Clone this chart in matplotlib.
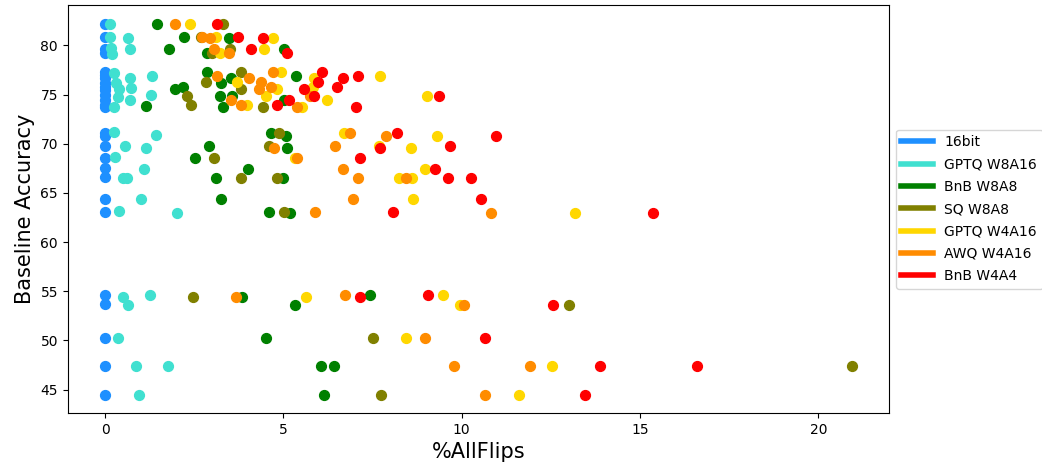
import matplotlib
matplotlib.use("Agg")
import matplotlib.pyplot as plt

# 16bit baseline: every task sits at 0 flips
fp16_y = [82.2, 80.8, 79.6, 79.2, 77.3, 77.0, 76.7, 76.2, 75.8, 75.5, 75.0, 74.4, 73.9, 73.7,
          71.1, 70.8, 69.8, 68.6, 67.5, 66.6, 64.4, 63.1, 54.6, 53.7, 50.3, 47.4, 44.5]
fp16_x = [0.0] * len(fp16_y)

gptq8_x = [0.14, 0.15, 0.63, 0.18, 0.2, 0.71, 0.26, 0.71, 1.33, 0.3, 0.4, 0.74, 0.35, 0.71, 1.3, 0.26,
           0.24, 1.42, 0.57, 1.16, 0.29, 1.1, 0.49, 0.61, 1.0, 0.4, 2.01, 0.49, 1.26, 0.65, 0.36,
           0.86, 1.77, 0.96]
gptq8_y = [82.2, 80.9, 80.7, 79.7, 79.1, 79.6, 77.2, 76.7, 76.9, 76.2, 75.6, 75.7, 74.8, 74.4, 75.0, 73.7,
           71.2, 70.9, 69.8, 69.6, 68.7, 67.4, 66.55, 66.55, 64.4, 63.2, 63.0, 54.4, 54.6, 53.6, 50.3,
           47.4, 47.4, 44.5]

bnb8_x = [1.45, 2.21, 3.47, 1.80, 2.87, 5.01, 2.87, 3.24, 3.52, 5.36, 1.95, 2.19, 3.21, 3.57, 5.01,
          1.15, 3.31, 4.64, 5.06, 2.91, 5.11, 2.52, 4.01, 3.12, 5.0, 3.24, 4.6, 5.18, 3.85, 7.42,
          5.32, 4.52, 6.06, 6.43, 6.15]
bnb8_y = [82.2, 80.85, 80.7, 79.6, 79.2, 79.6, 77.3, 76.2, 76.7, 76.9, 75.6, 75.8, 74.9, 74.9, 74.4,
          73.8, 73.7, 71.1, 70.8, 69.8, 69.6, 68.6, 67.4, 66.55, 66.55, 64.4, 63.1, 63.0, 54.4, 54.6,
          53.6, 50.3, 47.4, 47.4, 44.5]

sq8_x = [3.31, 2.68, 3.0, 3.50, 2.82, 3.80, 3.80, 2.29, 2.4, 4.43, 4.88, 4.59, 3.05, 3.82, 4.81,
         5.03, 2.47, 13.02, 7.5, 20.93, 7.75]
sq8_y = [82.2, 80.85, 79.2, 79.6, 76.25, 77.3, 75.6, 74.9, 73.9, 73.7, 71.1, 69.8, 68.6, 66.55, 66.55,
         63.1, 54.4, 53.6, 50.3, 47.4, 44.5]

gptq4_x = [2.37, 3.11, 4.70, 3.21, 4.45, 3.71, 4.92, 5.87, 7.72, 4.83, 5.82, 4.52, 6.23, 9.03, 3.99,
           5.53, 6.69, 9.31, 7.67, 8.58, 5.33, 8.98, 8.23, 8.61, 8.63, 13.18, 5.64, 9.47, 9.96, 8.44,
           12.52, 11.61]
gptq4_y = [82.2, 80.85, 80.7, 79.2, 79.6, 76.25, 77.3, 76.7, 76.9, 75.6, 75.8, 74.9, 74.4, 74.9, 73.9,
           73.7, 71.1, 70.8, 69.8, 69.6, 68.6, 67.4, 66.55, 66.55, 64.4, 63.0, 54.4, 54.6, 53.6, 50.3,
           47.4, 44.5]

awq4_x = [1.96, 2.73, 2.94, 3.05, 3.47, 3.15, 4.03, 4.36, 4.72, 4.31, 4.66, 3.52, 5.76, 3.8, 5.37,
          6.86, 7.89, 4.75, 6.44, 5.39, 6.67, 7.09, 8.45, 6.95, 5.9, 10.83, 3.68, 6.74, 10.07, 8.96,
          9.79, 11.92, 10.64]
awq4_y = [82.2, 80.85, 80.7, 79.6, 79.2, 76.9, 76.7, 76.25, 77.3, 75.6, 75.8, 74.4, 74.9, 73.9, 73.7,
          71.1, 70.8, 69.6, 69.8, 68.6, 67.4, 66.55, 66.55, 64.4, 63.1, 63.0, 54.4, 54.6, 53.6, 50.3,
          47.4, 47.4, 44.5]

bnb4_x = [3.15, 3.73, 4.43, 4.08, 5.11, 6.09, 5.97, 6.68, 7.09, 5.57, 6.51, 5.15, 5.85, 9.37, 4.83,
          7.04, 8.19, 10.95, 7.72, 9.68, 7.15, 9.26, 9.61, 10.27, 10.54, 8.06, 15.37, 7.14, 9.05,
          12.57, 10.64, 13.89, 16.61, 13.47]
bnb4_y = [82.2, 80.85, 80.7, 79.6, 79.2, 77.3, 76.25, 76.7, 76.9, 75.6, 75.8, 74.4, 74.9, 74.9, 73.9,
          73.7, 71.1, 70.8, 69.6, 69.8, 68.6, 67.4, 66.55, 66.55, 64.4, 63.1, 63.0, 54.4, 54.6,
          53.6, 50.3, 47.4, 47.4, 44.5]

labels = ["16bit", "GPTQ W8A16", "BnB W8A8", "SQ W8A8", "GPTQ W4A16", "AWQ W4A16", "BnB W4A4"]
colors = ["dodgerblue", "turquoise", "green", "olive", "gold", "darkorange", "red"]
xs = [fp16_x, gptq8_x, bnb8_x, sq8_x, gptq4_x, awq4_x, bnb4_x]
ys = [fp16_y, gptq8_y, bnb8_y, sq8_y, gptq4_y, awq4_y, bnb4_y]

fig = plt.figure(figsize=(10.42, 4.70), dpi=100)
ax = fig.add_axes([0.065, 0.121, 0.788, 0.868])

for x, y, c in zip(xs, ys, colors):
    ax.scatter(x, y, color=c, s=50)

# legend uses thick lines instead of dots
handles = [plt.Line2D([], [], color=c, lw=4) for c in colors]
ax.legend(handles, labels, loc="center left", bbox_to_anchor=(1.0, 0.5),
          handlelength=2.3, labelspacing=0.6)

ax.set_xlabel("%AllFlips", size=15)
ax.set_ylabel("Baseline Accuracy", size=15)

fig.savefig("out.png", dpi=100)
